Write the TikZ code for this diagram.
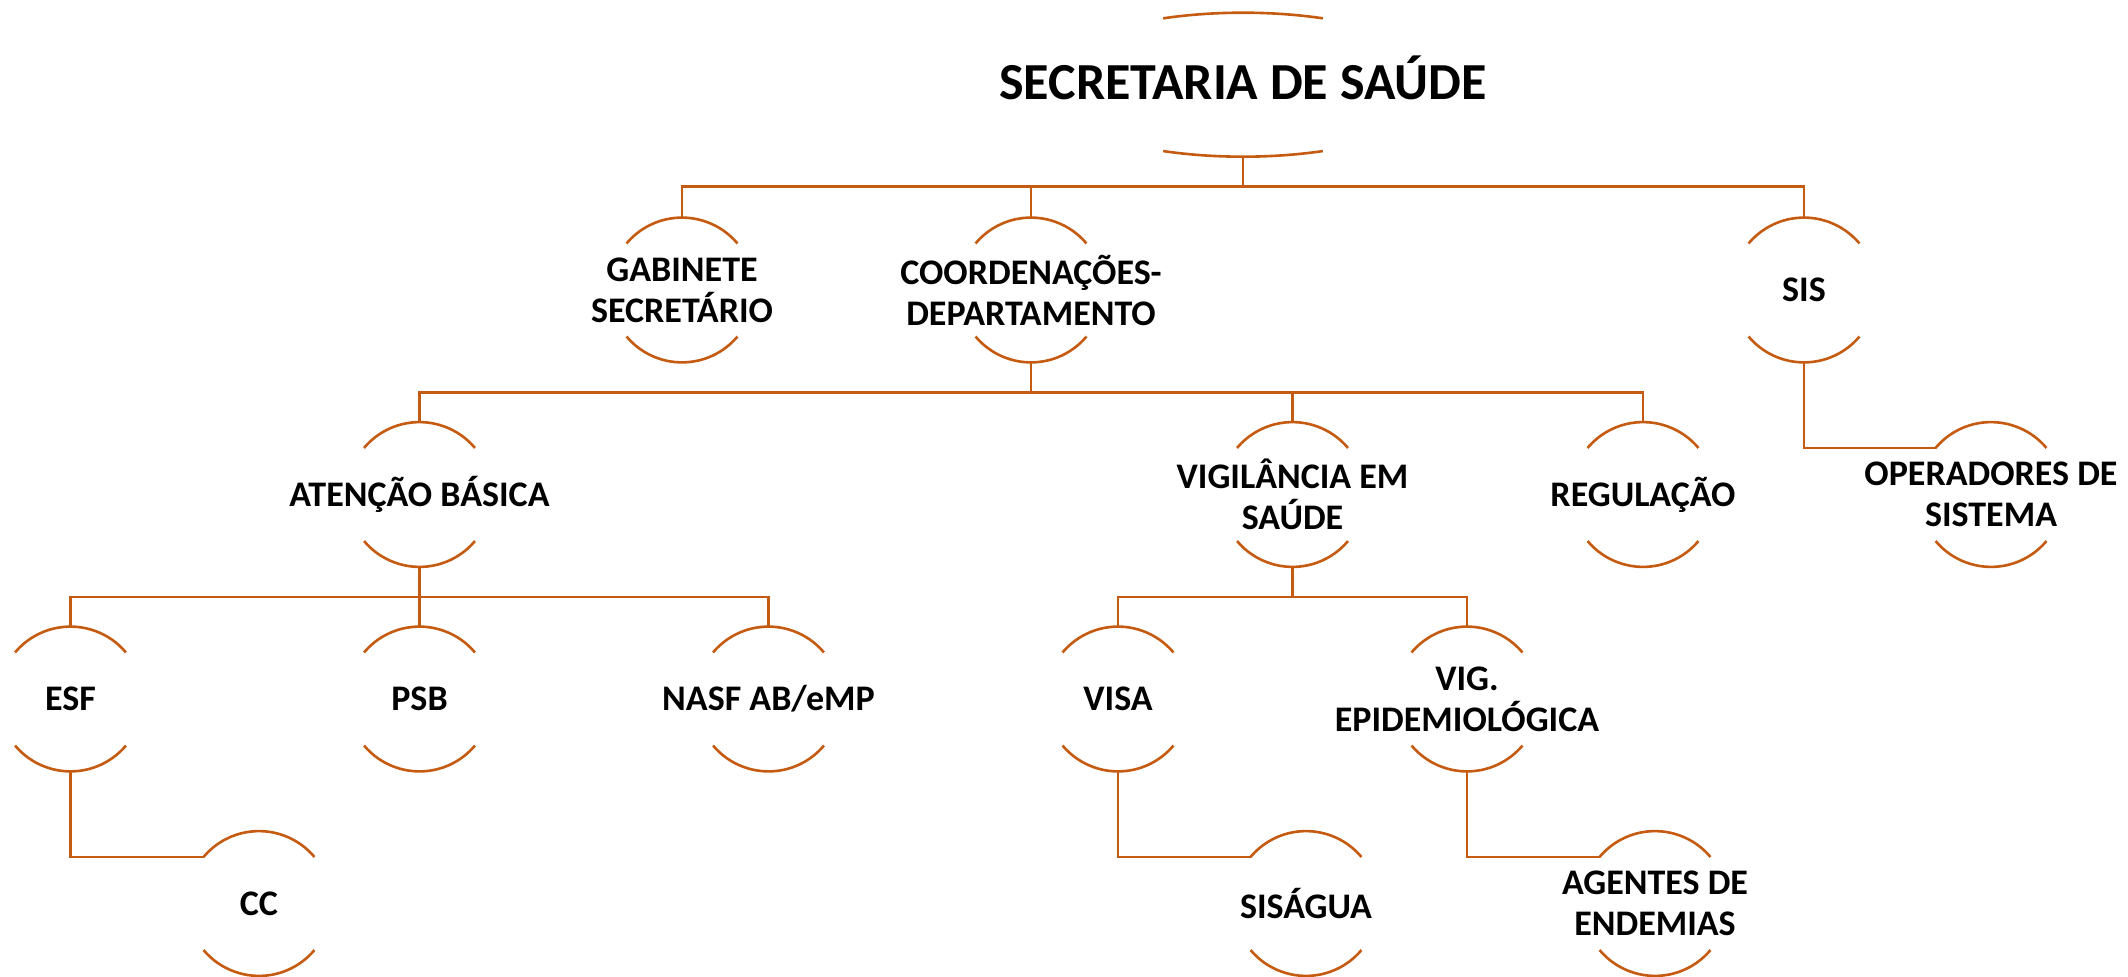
\documentclass[tikz,border=0pt]{standalone}
\usepackage{fontspec}
\setmainfont{Carlito}
\usetikzlibrary{calc}
\definecolor{org}{RGB}{197,90,17}
\begin{document}
\begin{tikzpicture}[x=0.5pt,y=0.5pt,
  lbl/.style={align=center, font=\bfseries\fontsize{18}{20.5}\selectfont, inner sep=0pt},
  orgc/.style={circle, draw=none, minimum size=72.4pt, inner sep=0pt, outer sep=0pt, label={[lbl]center:#1}},
  rootn/.style={rectangle, minimum height=72pt, inner sep=0pt, outer sep=0pt, text height=16.7pt, text depth=1.4pt, font=\bfseries\fontsize{26}{30}\selectfont},
  conn/.style={draw=org, line width=1.3pt},
  rim/.style={draw=org, line width=1.3pt}]
\useasboundingbox (0,0) rectangle (2128,976);

% nodes
\node[rootn] (root) at (1243,891.3) {SECRETARIA DE SAÚDE};

\node[orgc={GABINETE\\SECRETÁRIO}] (gab) at (682,686) {};
\node[orgc={COORDENAÇÕES-\\DEPARTAMENTO}] (coo) at (1031,686) {};
\node[orgc={SIS}] (sis) at (1804,686) {};

\node[orgc={ATENÇÃO BÁSICA}] (aten) at (419.5,481.5) {};
\node[orgc={VIGILÂNCIA EM\\SAÚDE}] (vig) at (1292.5,481.5) {};
\node[orgc={REGULAÇÃO}] (reg) at (1643,481.5) {};
\node[orgc={OPERADORES DE\\SISTEMA}] (oper) at (1991,481.5) {};

\node[orgc={ESF}] (esf) at (70.5,277) {};
\node[orgc={PSB}] (psb) at (419.5,277) {};
\node[orgc={NASF AB/eMP}] (nasf) at (768.5,277) {};
\node[orgc={VISA}] (visa) at (1118,277) {};
\node[orgc={VIG.\\EPIDEMIOLÓGICA}] (vepi) at (1467,277) {};

\node[orgc={CC}] (cc) at (259,72.5) {};
\node[orgc={SISÁGUA}] (sisa) at (1306,72.5) {};
\node[orgc={AGENTES DE\\ENDEMIAS}] (agen) at (1655,72.5) {};

% arcs
\draw[rim] (root.center) ++(67.2:103pt and 36pt) arc[start angle=67.2,end angle=112.8,x radius=103pt,y radius=36pt];
\draw[rim] (root.center) ++(247.2:103pt and 36pt) arc[start angle=247.2,end angle=292.8,x radius=103pt,y radius=36pt];
\foreach \n in {gab,coo,sis,aten,vig,reg,oper,esf,psb,nasf,visa,vepi,cc,sisa,agen}{
  \draw[rim] (\n.40) arc[start angle=40,end angle=140,radius=36.2pt];
  \draw[rim] (\n.220) arc[start angle=220,end angle=320,radius=36.2pt];
}

% connectors
\foreach \c in {gab,coo,sis} \draw[conn] (root.south) -- ++(0,-30) -| (\c.north);
\foreach \c in {aten,vig,reg} \draw[conn] (coo.south) -- ++(0,-30) -| (\c.north);
\foreach \c in {esf,psb,nasf} \draw[conn] (aten.south) -- ++(0,-30) -| (\c.north);
\foreach \c in {visa,vepi} \draw[conn] (vig.south) -- ++(0,-30) -| (\c.north);
\draw[conn] (sis.south) |- (oper.140);
\draw[conn] (esf.south) |- (cc.140);
\draw[conn] (visa.south) |- (sisa.140);
\draw[conn] (vepi.south) |- (agen.140);
\end{tikzpicture}
\end{document}
